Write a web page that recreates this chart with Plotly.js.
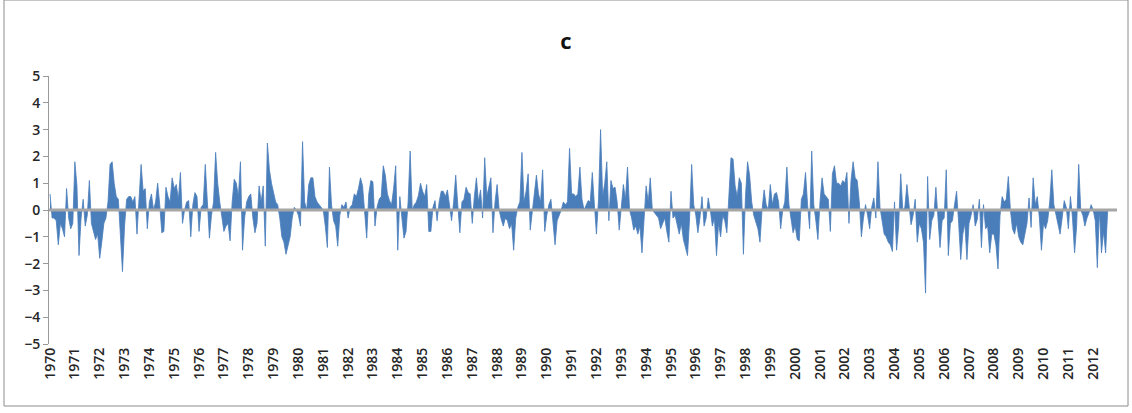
<!DOCTYPE html>
<html>
<head>
<meta charset="utf-8">
<script src="https://cdn.plot.ly/plotly-3.0.1.min.js"></script>
<style>html,body{margin:0;padding:0;background:#fff;}#chart{width:1132px;height:413px;}</style>
</head>
<body>
<div id="chart"></div>
<script>
// Monthly values, January 1970 - December 2012
var v1970s = [
  0.6, -0.3, -0.3, -0.4, -1.3, -0.5, -0.7, -1.0, 0.8, -0.3, -0.7, -0.5,
  1.8, 0.9, -1.7, -0.3, 0.4, -0.6, -0.2, 1.1, -0.5, -0.8, -1.1, -0.9,
  -1.8, -1.2, -0.5, -0.3, 0.3, 1.7, 1.8, 1.0, 0.5, 0.4, -0.8, -2.3,
  -0.6, 0.4, 0.5, 0.5, 0.3, 0.5, -0.9, 0.2, 1.7, 0.7, 0.8, -0.7,
  0.3, 0.6, 0, 0.3, 1.0, 0.2, -0.85, -0.8, 0.85, 0.5, 0.3, 1.2,
  0.8, 0.95, 0.4, 1.4, -0.5, 0, 0.3, 0.35, -1.0, 0.2, 0.65, 0.5,
  -0.8, 0.1, 0.2, 1.7, 0.3, -1.05, -0.2, 0.3, 2.15, 1.0, 0.3, -0.3,
  -0.8, -0.6, -0.5, -1.15, 0.3, 1.15, 1.0, 0.5, 1.8, -1.5, -0.3, 0.3,
  0.5, 0.6, -0.3, -0.85, -0.5, 0.9, 0.3, 0.9, -1.35, 2.5, 1.5, 1.0,
  0.6, 0.3, 0.2, -0.3, -1.0, -1.2, -1.65, -1.3, -1.0, -0.3, 0.1, 0
];
var v1980s = [
  -0.2, -0.6, 2.55, 0.3, 0, 0.95, 1.2, 1.2, 0.5, 0.3, 0.2, 0.1,
  0, -0.6, -1.4, 1.6, 0.2, -0.4, -0.6, -1.35, -0.2, 0.2, 0.1, 0.3,
  -0.3, 0.1, 0.2, 0.6, 0.5, 0.8, 1.2, 0.9, 0, -1.05, 0.6, 1.1,
  1.05, -0.6, 0.1, 0.4, 0.5, 1.65, 1.3, 0.6, 0.35, 0.2, 0.8, 1.65,
  -1.5, 0.5, -0.3, -1.05, -0.8, 0.3, 2.2, 0, 0.2, 0.3, 0.55, 1.0,
  0.7, 0.5, 0.95, -0.8, -0.8, 0.1, 0.35, -0.4, 0.3, 0.7, 0.7, 0.5,
  0.75, 0.1, -0.4, 0.3, 1.3, 0.2, -0.85, 0.3, 0.4, 0.85, 0.65, 0.6,
  -0.5, 0.5, 1.2, 0.3, 0.75, -0.3, 1.95, 0.5, 0.8, 1.2, -0.85, 0.3,
  0.95, 0, -0.35, -0.6, -0.3, -0.4, -0.7, -0.5, -1.5, -0.3, 0.1, 0.3,
  2.15, 0.3, 0.7, 1.35, -0.75, 0, 0.5, 1.3, 0.6, 0.3, 1.5, -0.8
];
var v1990s = [
  -0.2, 0.2, 0.4, -0.5, -1.3, -0.4, -0.2, 0, 0.3, 0.2, 0.3, 2.3,
  0.6, 0.6, 0.5, 0.6, 1.6, 0.4, 0, 0.2, 0.35, 0.3, 1.4, 0.2,
  -0.9, 0.4, 3.0, 0.5, 1.0, 1.8, -0.4, 1.1, 0.8, 0.85, 0.3, -0.75,
  0.2, 0.95, 0.4, 1.6, 0, -0.3, -0.75, -0.6, -0.9, -0.6, -1.6, -0.4,
  0.9, 0.3, 1.2, 0, -0.1, -0.2, -0.3, -0.7, -0.5, -0.3, -0.8, -1.2,
  0.7, -0.3, -0.2, -0.6, -0.9, -0.5, -1.1, -1.4, -1.7, -0.3, 1.7, 0.2,
  -0.2, -0.85, -0.3, 0.5, -0.6, -0.3, 0.45, 0, -0.6, -0.3, -1.7, -0.5,
  -1.0, -0.2, -0.4, -0.85, 0.4, 1.95, 1.9, 0.9, 0.5, 1.2, 1.0, -1.65,
  0.5, 1.8, 1.3, 0.3, -0.2, -0.5, -0.7, -1.2, 0, 0.75, 0.2, 0,
  0.95, 0.2, 0.6, 0.65, 0.3, -0.7, 0, 0.3, 1.6, 0.2, -0.3, -0.85
];
var v2000s = [
  -0.6, -1.1, -1.15, 0.4, 0.6, 1.4, 0.2, -0.7, 2.2, 0.2, -0.4, -1.1,
  0.3, 1.2, 0.6, 0.5, 0.4, -0.8, 1.35, 1.65, 1.0, 1.0, 0.9, 1.1,
  1.0, 1.4, -0.5, 1.1, 1.8, 1.2, 1.1, 0.3, -1.0, -0.3, 0.2, -0.2,
  -0.7, 0.1, 0.45, -0.3, 1.8, 0.1, -0.4, -0.9, -1.0, -1.2, -1.3, -1.55,
  0.3, -1.5, -0.6, 1.35, 0, 0.1, 0.95, 0.3, -0.55, -0.2, 0.4, -1.2,
  -0.5, -0.7, -1.2, -3.1, 1.25, -1.1, -0.4, -0.2, 0.85, -0.3, -1.4, -0.4,
  -0.3, 1.5, -1.7, -0.5, -0.4, 0.2, 0.7, -0.5, -1.85, -0.9, -0.5, -1.85,
  -0.5, -0.2, 0.2, -0.6, -0.35, 0.4, -1.4, 0.2, -0.7, -0.6, -1.6, -0.9,
  -0.9, -1.3, -2.2, -0.2, 0.5, 0.3, 0.4, 1.25, 0, -0.7, -0.9, -0.5,
  -1.0, -1.2, -1.3, -0.9, -0.5, 0.45, -0.65, 1.2, 0.2, 0.5, -0.3, -1.5
];
var v2010s = [
  -0.5, -0.7, -0.4, 0.3, 1.5, 0.2, -0.2, -0.6, -0.9, -0.3, 0.35, 0.1,
  -0.7, 0.5, -0.3, -1.6, -0.6, 1.7, 0, -0.2, -0.6, -0.3, -0.1, 0.2,
  0, -0.4, -2.15, 0, -1.6, -0.8, -1.6, 0, null, null, null, null
];
var years = [];
for (var yr = 1970; yr <= 2012; yr++) years.push(String(yr));

var values = v1970s.concat(v1980s, v1990s, v2000s, v2010s);
var idx = values.map(function (_, i) { return i; });
var tickPos = years.map(function (_, i) { return i * 12; });

var blue = '#4A7EBB';
var trace = {
  x: idx, y: values, type: 'scatter', mode: 'lines',
  line: {color: blue, width: 0.8},
  fill: 'tozeroy', fillcolor: blue,
  connectgaps: false, hoverinfo: 'skip'
};

var font = '"Open Sans", Lato, "Liberation Sans", sans-serif';
var layout = {
  width: 1132, height: 413,
  margin: {l: 49, r: 15, t: 76, b: 69},
  paper_bgcolor: '#fff', plot_bgcolor: '#fff',
  showlegend: false,
  title: {text: '<b>c</b>', x: 0.5, xref: 'container', xanchor: 'center',
          y: 0.9, yref: 'container', yanchor: 'middle',
          font: {family: font, size: 22, color: '#111'}},
  xaxis: {
    range: [-0.5, values.length - 0.5],
    tickmode: 'array', tickvals: tickPos, ticktext: years,
    tickangle: -90, ticks: '', showgrid: false, zeroline: false, showline: false,
    tickfont: {family: font, size: 14, color: '#262626', weight: 600}
  },
  yaxis: {
    range: [-5, 5], tickmode: 'linear', tick0: -5, dtick: 1,
    ticks: 'outside', ticklen: 5, tickcolor: '#999', tickwidth: 1,
    showline: true, linecolor: '#999', linewidth: 1,
    showgrid: false, zeroline: false,
    tickfont: {family: font, size: 14, color: '#262626', weight: 600}
  },
  shapes: [
    {type: 'line', xref: 'paper', yref: 'y', x0: 0, x1: 1, y0: 0, y1: 0,
     line: {color: '#A6A6A6', width: 3}, layer: 'above'},
    {type: 'rect', xref: 'paper', yref: 'paper',
     x0: (4 - 49) / 1068, x1: (1128 - 49) / 1068,
     y0: (344 - 406) / 268, y1: (344 - 0) / 268,
     line: {color: '#8C8C8C', width: 1}, fillcolor: 'rgba(0,0,0,0)', layer: 'below'}
  ]
};

Plotly.newPlot('chart', [trace], layout, {staticPlot: true, displayModeBar: false});
</script>
</body>
</html>
